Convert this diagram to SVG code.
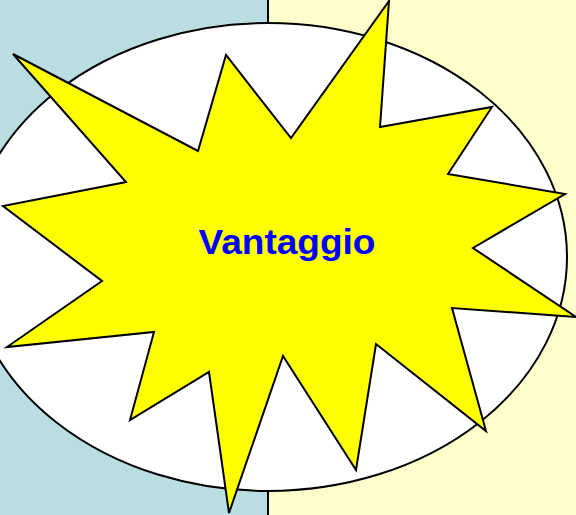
<svg xmlns="http://www.w3.org/2000/svg" width="576" height="515" viewBox="0 0 576 515">
<style>
.ol{stroke:#000;stroke-width:2;stroke-linejoin:miter}
.lbl{font-family:"Liberation Sans",Arial,sans-serif;font-weight:bold;fill:#0000FF}
</style>
<rect x="0" y="0" width="268" height="515" fill="#BADDE2"/>
<rect x="268" y="0" width="308" height="515" fill="#FFFFCC"/>
<line x1="268" y1="0" x2="268" y2="515" stroke="#000" stroke-width="2"/>
<g id="ellipse">
<ellipse class="ol" cx="268" cy="257" rx="299" ry="234" fill="#FFFFFF"/>
</g>
<g id="star">
<polygon class="ol" fill="#FFFF00" points="389,1 380,127 492,107 448,174 565,194 473,248 576,317 452,308 486,431 376,344 356,470 283,356 229,513 209,372 130,420 154,332 7,347 102,281 3,206 126,182 13,54 198,151 226,55 291,138"/>
<text class="lbl" x="287" y="254" font-size="35" text-anchor="middle" textLength="177" lengthAdjust="spacingAndGlyphs">Vantaggio</text>
</g>
</svg>
